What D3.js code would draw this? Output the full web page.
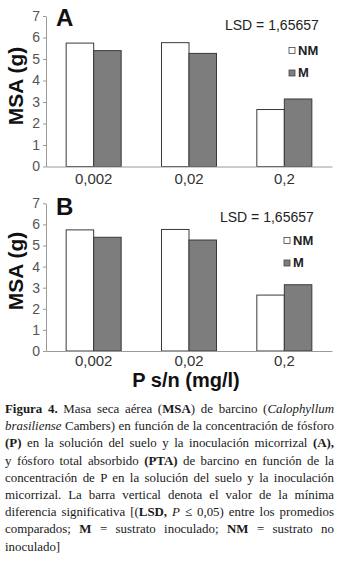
<!DOCTYPE html>
<html>
<head>
<meta charset="utf-8">
<script src="https://cdn.jsdelivr.net/npm/d3@7"></script>
<style>
  body { margin: 0; background: #fff; }
  #chart { position: absolute; left: 0; top: 0; }
  #caption {
    position: absolute; left: 5px; top: 401px; width: 329px;
    font-family: "Liberation Serif", "Times New Roman", serif;
    font-size: 12.9px; line-height: 17.2px; color: #1a1a1a;
  }
  #caption div { text-align: justify; text-align-last: justify; white-space: nowrap; }
  #caption div.last { text-align-last: left; }
</style>
</head>
<body>
<div id="chart"></div>
<div id="caption"></div>
<script>
// data
const categories = ["0,002", "0,02", "0,2"];
const seriesNames = ["NM", "M"];
const msaNM = [5.74, 5.76, 2.65];
const msaM = [5.39, 5.26, 3.14];
const yTicks = [0, 1, 2, 3, 4, 5, 6, 7];
const panelLabels = ["A", "B"];
const lsdText = "LSD = 1,65657";
const yTitle = "MSA (g)";
const xTitle = "P s/n (mg/l)";

const captionLines = [
  "<b>Figura 4.</b> Masa seca aérea (<b>MSA</b>) de barcino (<i>Calophyllum</i>",
  "<i>brasiliense</i> Cambers) en función de la concentración de fósforo",
  "<b>(P)</b> en la solución del suelo y la inoculación micorrizal <b>(A),</b>",
  "y fósforo total absorbido <b>(PTA)</b> de barcino en función de la",
  "concentración de P en la solución del suelo y la inoculación",
  "micorrizal. La barra vertical denota el valor de la mínima",
  "diferencia significativa [(<b>LSD,</b> <i>P</i> ≤ 0,05) entre los promedios",
  "comparados; <b>M</b> = sustrato inoculado; <b>NM</b> = sustrato no",
  "inoculado]"
];

const width = 339, height = 561;
const svg = d3.select("#chart").append("svg")
  .attr("width", width).attr("height", height);

const color = d3.scaleOrdinal().domain(seriesNames).range(["#ffffff", "#7d7d7d"]);

// per-panel layout
const layouts = [
  { y0: 166.5, y7: 16, letterY: 26, lsdX: 225, lsdY: 29.5, legX: 289, legY: 47.5, tickY: 183.5, titleY: 86 },
  { y0: 351, y7: 203.3, letterY: 214.5, lsdX: 220, lsdY: 221.5, legX: 284, legY: 237.5, tickY: 366, titleY: 271 }
];

const x = d3.scaleBand().domain(categories).range([46, 332])
  .paddingInner(0.423).paddingOuter(0.2115);
const xs = d3.scaleBand().domain(seriesNames).range([0, x.bandwidth()]);

const rows = categories.map((c, i) => ({ cat: c, NM: msaNM[i], M: msaM[i] }));

panelLabels.forEach((label, pi) => {
  const L = layouts[pi];
  const y = d3.scaleLinear().domain([0, 7]).range([L.y0, L.y7]);
  const g = svg.append("g");

  // bars
  g.selectAll(".grp").data(rows).enter().append("g")
    .attr("transform", d => `translate(${x(d.cat)},0)`)
    .selectAll("rect")
    .data(d => seriesNames.map(k => ({ key: k, value: d[k] })))
    .enter().append("rect")
    .attr("x", d => xs(d.key))
    .attr("y", d => y(d.value))
    .attr("width", xs.bandwidth())
    .attr("height", d => y(0) - y(d.value))
    .attr("fill", d => color(d.key))
    .attr("stroke", "#3a3a3a")
    .attr("stroke-width", 1);

  // y axis
  const ya = g.append("g").attr("transform", "translate(46,0)")
    .call(d3.axisLeft(y).tickValues(yTicks).tickFormat(d3.format("d"))
      .tickSize(3).tickSizeOuter(0).tickPadding(3));
  ya.select(".domain").attr("stroke", "#9a9a9a");
  ya.selectAll(".tick line").attr("stroke", "#9a9a9a");
  ya.selectAll(".tick text")
    .attr("fill", "#555")
    .style("font-family", "Liberation Sans, Arial, sans-serif")
    .style("font-size", "14px");

  // x axis
  const xa = g.append("g").attr("transform", `translate(0,${L.y0})`)
    .call(d3.axisBottom(x).tickSize(0).tickSizeOuter(0).tickPadding(0));
  xa.select(".domain").attr("stroke", "#9a9a9a");
  xa.selectAll(".tick text")
    .attr("y", L.tickY - L.y0).attr("dy", 0)
    .attr("fill", "#333")
    .style("font-family", "Liberation Sans, Arial, sans-serif")
    .style("font-size", "15px");

  // y title
  g.append("text")
    .attr("transform", `translate(22.5,${L.titleY}) rotate(-90)`)
    .attr("text-anchor", "middle")
    .style("font-family", "Liberation Sans, Arial, sans-serif")
    .style("font-weight", "bold").style("font-size", "21px")
    .attr("fill", "#111")
    .text(yTitle);

  // panel letter
  g.append("text").attr("x", 56).attr("y", L.letterY)
    .style("font-family", "Liberation Sans, Arial, sans-serif")
    .style("font-weight", "bold").style("font-size", "24px")
    .attr("fill", "#111").text(label);

  // LSD
  g.append("text").attr("x", L.lsdX).attr("y", L.lsdY)
    .style("font-family", "Liberation Sans, Arial, sans-serif")
    .style("font-size", "14px").attr("fill", "#222").text(lsdText);

  // legend
  const leg = g.selectAll(".leg").data(seriesNames).enter().append("g")
    .attr("transform", (d, i) => `translate(${L.legX},${L.legY + i * 22.5})`);
  leg.append("rect").attr("width", 6).attr("height", 6)
    .attr("fill", d => color(d)).attr("stroke", "#444").attr("stroke-width", 0.8);
  leg.append("text").attr("x", 9).attr("y", 7.2)
    .style("font-family", "Liberation Sans, Arial, sans-serif")
    .style("font-weight", "bold").style("font-size", "13px")
    .attr("fill", "#222").text(d => d);
});

// x title
svg.append("text").attr("x", 186).attr("y", 387)
  .attr("text-anchor", "middle")
  .style("font-family", "Liberation Sans, Arial, sans-serif")
  .style("font-weight", "bold").style("font-size", "20px")
  .attr("fill", "#111").text(xTitle);

// caption
d3.select("#caption").selectAll("div").data(captionLines).enter().append("div")
  .attr("class", (d, i) => i === captionLines.length - 1 ? "last" : null)
  .html(d => d);
</script>
</body>
</html>
